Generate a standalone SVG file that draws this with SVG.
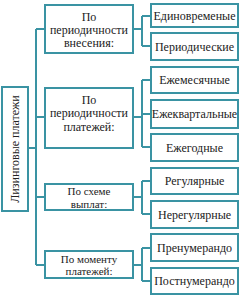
<svg xmlns="http://www.w3.org/2000/svg" width="240" height="296" viewBox="0 0 240 296">
<style>
.b{fill:#fff;stroke:#3a93a3;stroke-width:2}
.c{fill:none;stroke:#3a93a3;stroke-width:2}
text{font-family:"Liberation Serif","Times New Roman",serif;font-size:12px;fill:#222;text-anchor:middle}
.s{font-size:11px}
</style>
<rect width="240" height="296" fill="#fff"/>
<g id="connectors">
<path class="c" d="M28 148H36M36 29V265M36 29H45M36 117H45M36 197H45M36 265H45"/>
<path class="c" d="M133 29H142M142 16V46M142 16H151M142 46H151"/>
<path class="c" d="M133 117H142M142 80V147M142 80H151M142 114H151M142 147H151"/>
<path class="c" d="M133 197H142M142 181V214M142 181H151M142 214H151"/>
<path class="c" d="M133 265H142M142 248V281M142 248H151M142 281H151"/>
</g>
<g id="root"><rect class="b" x="2" y="87" width="26" height="124"/><text transform="translate(19 149) rotate(-90)">Лизинговые платежи</text></g>
<g id="cat1"><rect class="b" x="45" y="5" width="88" height="48"/><text x="89" y="21">По</text><text x="89" y="34">периодичности</text><text x="89" y="47">внесения:</text></g>
<g id="cat2"><rect class="b" x="45" y="88" width="88" height="60"/><text x="89" y="104">По</text><text x="89" y="117">периодичности</text><text x="89" y="131">платежей:</text></g>
<g id="cat3"><rect class="b" x="45" y="184" width="88" height="26"/><text class="s" x="89" y="195">По схеме</text><text class="s" x="89" y="207.5">выплат:</text></g>
<g id="cat4"><rect class="b" x="45" y="251" width="88" height="27"/><text class="s" x="89" y="262.5">По моменту</text><text class="s" x="89" y="275">платежей:</text></g>
<g id="l1"><rect class="b" x="151" y="4" width="87" height="23"/><text x="194.5" y="20">Единовременые</text></g>
<g id="l2"><rect class="b" x="151" y="33" width="87" height="27"/><text x="194.5" y="51">Периодические</text></g>
<g id="l3"><rect class="b" x="151" y="67" width="87" height="26"/><text x="194.5" y="84">Ежемесячные</text></g>
<g id="l4"><rect class="b" x="151" y="100" width="87" height="28"/><text x="194.5" y="118">Ежеквартальные</text></g>
<g id="l5"><rect class="b" x="151" y="134" width="87" height="27"/><text x="194.5" y="152">Ежегодные</text></g>
<g id="l6"><rect class="b" x="151" y="168" width="87" height="26"/><text x="194.5" y="185">Регулярные</text></g>
<g id="l7"><rect class="b" x="151" y="201" width="87" height="27"/><text x="194.5" y="219">Нерегулярные</text></g>
<g id="l8"><rect class="b" x="151" y="234" width="87" height="27"/><text x="194.5" y="252">Пренумерандо</text></g>
<g id="l9"><rect class="b" x="151" y="268" width="87" height="26"/><text x="194.5" y="285">Постнумерандо</text></g>
</svg>
